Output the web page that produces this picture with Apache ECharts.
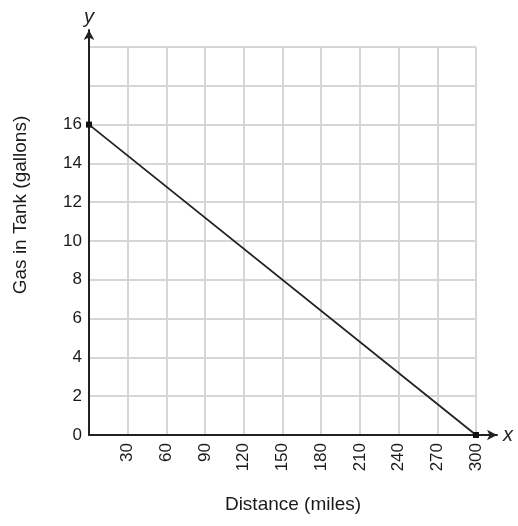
<!DOCTYPE html>
<html><head><meta charset="utf-8">
<script src="https://cdn.jsdelivr.net/npm/echarts@6/dist/echarts.min.js"></script>
<style>html,body{margin:0;padding:0;background:#fff}#c{width:518px;height:526px}</style>
</head><body><div id="c"></div>
<script>
const distance = [0, 300];
const gas = [16, 0];
const xTicks = [0, 30, 60, 90, 120, 150, 180, 210, 240, 270, 300];
const yTicks = [0, 2, 4, 6, 8, 10, 12, 14, 16];
const xTitle = 'Distance (miles)';
const yTitle = 'Gas in Tank (gallons)';

const chart = echarts.init(document.getElementById('c'));
const font = 'Liberation Sans, Arial, sans-serif';
chart.setOption({
  animation: false,
  grid: [
    {left: 89, top: 47, right: 42, bottom: 91},
    {left: 89, top: 30, right: 21, bottom: 91}
  ],
  xAxis: [
    {gridIndex: 0, type: 'value', min: 0, max: 300, interval: 30,
     axisLine: {show: false}, axisTick: {show: false},
     splitLine: {show: true, lineStyle: {color: '#d6d6d6', width: 2}},
     axisLabel: {rotate: 90, fontFamily: font, fontSize: 17, color: '#1a1a1a', margin: 8,
       formatter: v => (v > 0 && xTicks.indexOf(v) >= 0) ? String(v) : ''}},
    {gridIndex: 1, type: 'value', min: 0, max: 1,
     axisLine: {show: true, onZero: false, lineStyle: {color: '#222', width: 2}, symbol: ['none', 'arrow'], symbolSize: [8, 10]},
     axisTick: {show: false}, splitLine: {show: false}, axisLabel: {show: false},
     name: 'x', nameGap: 6, nameTextStyle: {fontFamily: font, fontSize: 20, fontStyle: 'italic', color: '#222', verticalAlign: 'middle'}}
  ],
  yAxis: [
    {gridIndex: 0, type: 'value', min: 0, max: 20, interval: 2,
     axisLine: {show: false}, axisTick: {show: false},
     splitLine: {show: true, lineStyle: {color: '#d6d6d6', width: 2}},
     axisLabel: {fontFamily: font, fontSize: 17, color: '#1a1a1a', margin: 7,
       formatter: v => yTicks.indexOf(v) >= 0 ? String(v) : ''}},
    {gridIndex: 1, type: 'value', min: 0, max: 1,
     axisLine: {show: true, onZero: false, lineStyle: {color: '#222', width: 2}, symbol: ['none', 'arrow'], symbolSize: [8, 10]},
     axisTick: {show: false}, splitLine: {show: false}, axisLabel: {show: false},
     name: 'y', nameGap: 3, nameTextStyle: {fontFamily: font, fontSize: 20, fontStyle: 'italic', color: '#222'}}
  ],
  graphic: [
    {type: 'text', x: 293, y: 505, style: {text: xTitle, font: '19px ' + font, fill: '#1a1a1a', align: 'center', verticalAlign: 'middle'}},
    {type: 'text', x: 21, y: 205, rotation: Math.PI / 2, style: {text: yTitle, font: '19px ' + font, fill: '#1a1a1a', align: 'center', verticalAlign: 'middle'}}
  ],
  series: [{
    type: 'line', xAxisIndex: 0, yAxisIndex: 0,
    data: distance.map((d, i) => [d, gas[i]]),
    lineStyle: {color: '#222', width: 1.8},
    symbol: 'rect', symbolSize: 6, showSymbol: true,
    itemStyle: {color: '#111'}
  }]
});
</script></body></html>
